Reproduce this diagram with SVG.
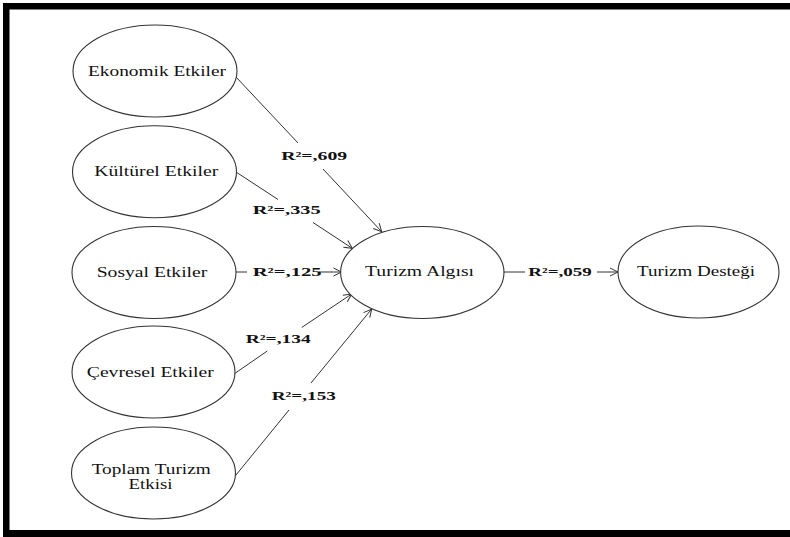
<svg xmlns="http://www.w3.org/2000/svg" width="790" height="537" viewBox="0 0 790 537">
  <defs>
    <marker id="arr" markerUnits="userSpaceOnUse" markerWidth="12" markerHeight="12" viewBox="-10 -6 12 12" refX="0" refY="0" orient="auto">
      <path d="M-8,-4 L0,0 L-8,4" fill="none" stroke="#333" stroke-width="1"/>
    </marker>
  </defs>
  <style>
    .node ellipse { fill: #ffffff; stroke: #333333; stroke-width: 1.1; }
    .node text { font-family: "Liberation Serif", "Times New Roman", serif; font-size: 14px; fill: #111111; text-anchor: middle; }
    .conn line { stroke: #333333; stroke-width: 1; fill: none; }
    .lbl { font-family: "Liberation Serif", "Times New Roman", serif; font-size: 12.5px; font-weight: bold; fill: #111111; text-anchor: middle; }
  </style>
  <rect x="0" y="0" width="790" height="537" fill="#ffffff"/>
  <g id="frame">
    <rect x="3" y="3" width="787" height="6.5" fill="#000"/>
    <rect x="3" y="3" width="6.5" height="534" fill="#000"/>
    <rect x="3" y="530" width="787" height="7" fill="#000"/>
  </g>

  <g id="connectors" class="conn">
    <line x1="236" y1="77" x2="298" y2="143"/>
    <line x1="323" y1="169" x2="381.7" y2="231.7" marker-end="url(#arr)"/>
    <line x1="236" y1="172" x2="278" y2="199.5"/>
    <line x1="313" y1="222.5" x2="352.3" y2="248.3" marker-end="url(#arr)"/>
    <line x1="236" y1="272" x2="247" y2="272"/>
    <line x1="319" y1="272" x2="341.5" y2="272" marker-end="url(#arr)"/>
    <line x1="235" y1="373.3" x2="267.3" y2="351"/>
    <line x1="301.7" y1="327.5" x2="351.7" y2="294" marker-end="url(#arr)"/>
    <line x1="233.3" y1="478.3" x2="289" y2="410"/>
    <line x1="311" y1="383" x2="371.7" y2="309" marker-end="url(#arr)"/>
    <line x1="504" y1="272" x2="525" y2="272"/>
    <line x1="597" y1="272" x2="618" y2="272" marker-end="url(#arr)"/>
  </g>

  <g id="labels">
    <text class="lbl" x="314.2" y="160" textLength="66" lengthAdjust="spacingAndGlyphs">R²=,609</text>
    <text class="lbl" x="286.7" y="214" textLength="68" lengthAdjust="spacingAndGlyphs">R²=,335</text>
    <text class="lbl" x="287.2" y="275.7" textLength="69" lengthAdjust="spacingAndGlyphs">R²=,125</text>
    <text class="lbl" x="278.2" y="343.3" textLength="65" lengthAdjust="spacingAndGlyphs">R²=,134</text>
    <text class="lbl" x="303.8" y="400" textLength="64" lengthAdjust="spacingAndGlyphs">R²=,153</text>
    <text class="lbl" x="560" y="276" textLength="63.4" lengthAdjust="spacingAndGlyphs">R²=,059</text>
  </g>

  <g id="ekonomik" class="node">
    <ellipse cx="155" cy="71" rx="82" ry="46"/>
    <text x="157" y="76" textLength="138" lengthAdjust="spacingAndGlyphs">Ekonomik Etkiler</text>
  </g>
  <g id="kulturel" class="node">
    <ellipse cx="154.5" cy="171.7" rx="82" ry="46"/>
    <text x="156.3" y="176" textLength="124" lengthAdjust="spacingAndGlyphs">Kültürel Etkiler</text>
  </g>
  <g id="sosyal" class="node">
    <ellipse cx="154" cy="272.5" rx="82" ry="46"/>
    <text x="152" y="276.7" textLength="110.6" lengthAdjust="spacingAndGlyphs">Sosyal Etkiler</text>
  </g>
  <g id="cevresel" class="node">
    <ellipse cx="153.5" cy="372" rx="81.5" ry="46"/>
    <text x="150.3" y="376.7" textLength="127" lengthAdjust="spacingAndGlyphs">Çevresel Etkiler</text>
  </g>
  <g id="toplam" class="node">
    <ellipse cx="153.5" cy="473" rx="82" ry="46"/>
    <text x="151.2" y="473.5" textLength="119" lengthAdjust="spacingAndGlyphs">Toplam Turizm</text>
    <text x="150.5" y="489" textLength="44" lengthAdjust="spacingAndGlyphs">Etkisi</text>
  </g>
  <g id="algisi" class="node">
    <ellipse cx="422.3" cy="272.5" rx="81.7" ry="46"/>
    <text x="419.5" y="276" textLength="109" lengthAdjust="spacingAndGlyphs">Turizm Algısı</text>
  </g>
  <g id="destegi" class="node">
    <ellipse cx="698.5" cy="272" rx="80.5" ry="46"/>
    <text x="696" y="276" textLength="118" lengthAdjust="spacingAndGlyphs">Turizm Desteği</text>
  </g>
</svg>
